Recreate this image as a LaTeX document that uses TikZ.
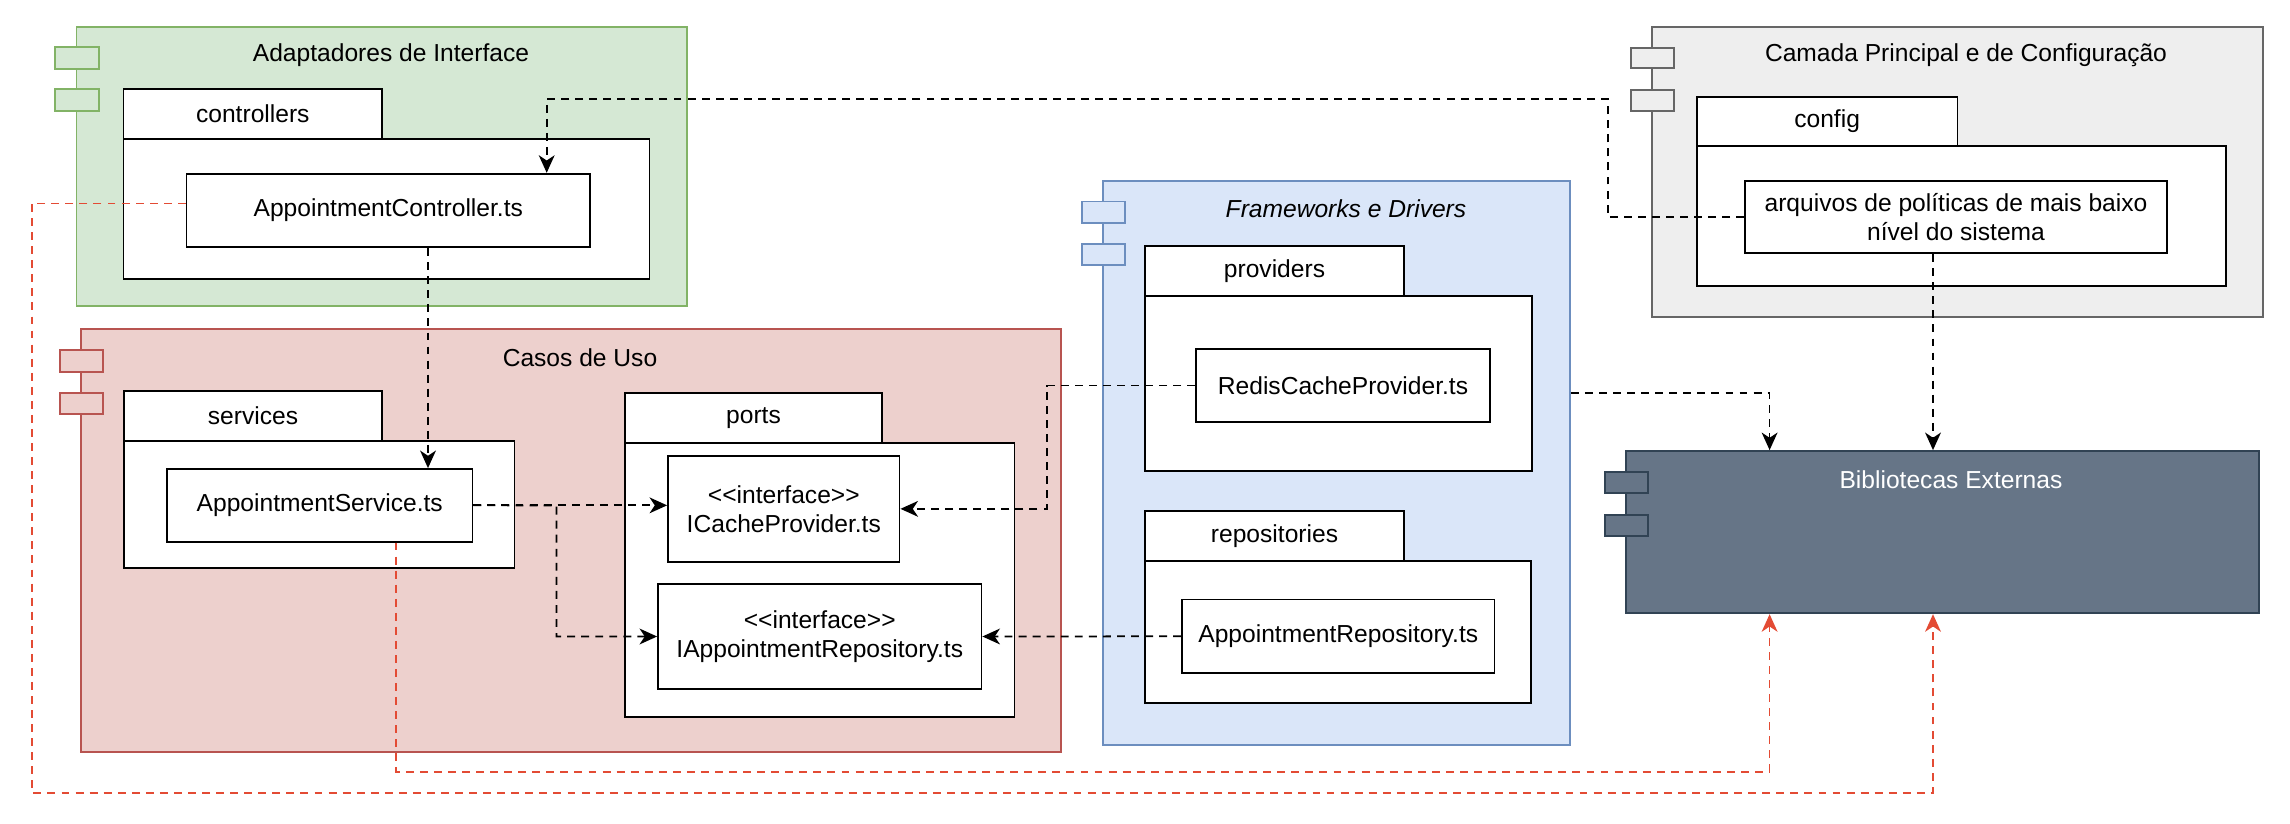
\documentclass[tikz,border=0pt]{standalone}
\usepackage{fontspec}
\setmainfont{Liberation Sans}
\usepackage{xcolor}
\usetikzlibrary{arrows.meta,fit,calc}
\definecolor{adaptfill}{HTML}{D5E8D4}
\definecolor{adaptline}{HTML}{82B366}
\definecolor{casosfill}{HTML}{EDD0CD}
\definecolor{casosline}{HTML}{B85450}
\definecolor{fwfill}{HTML}{DAE6F9}
\definecolor{fwline}{HTML}{6C8EBF}
\definecolor{mainfill}{HTML}{EEEEEE}
\definecolor{mainline}{HTML}{666666}
\definecolor{libfill}{HTML}{667587}
\definecolor{libline}{HTML}{314354}
\definecolor{libred}{HTML}{E34B34}
\newcommand{\stereo}[1]{\textless\kern0pt\textless#1\textgreater\kern0pt\textgreater}

\begin{document}
\begin{tikzpicture}[
  x=0.02cm, y=-0.02cm,
  font=\fontsize{14}{16.5}\selectfont,
  layer/.style={draw, line width=1pt, inner sep=0pt},
  plug/.style={draw, line width=1pt, inner sep=0pt},
  pkg/.style={draw=black, fill=white, line width=1pt, inner sep=0pt},
  txt/.style={label={[align=center]center:#1}},
  arr/.style={-{Stealth[length=10pt,width=9pt,inset=3pt]}, line width=1pt, dash pattern=on 4.5pt off 3.5pt},
  redarr/.style={arr, color=libred}
]
\useasboundingbox (0,0) rectangle (2290,824);

% Adaptadores de Interface
\node[layer, draw=adaptline, fill=adaptfill, fit={(76.6,26.7) (687,306)}] (adapt) {};
\node[plug, draw=adaptline, fill=adaptfill, fit={(55,47) (99,69)}] (adaptpa) {};
\node[plug, draw=adaptline, fill=adaptfill, fit={(55,89) (99,111)}] (adaptpb) {};
\node (adapttitle) at (391,55) {Adaptadores de Interface};
\node[pkg, fit={(123.6,139) (649.5,279)}] (ctrlpkg) {};
\node[pkg, fit={(123.6,89) (382,139)}, txt=controllers] (ctrltab) {};
\node[pkg, fit={(186.6,173.7) (590,247.3)}, txt=AppointmentController.ts] (ctrl) {};

% Casos de Uso
\node[layer, draw=casosline, fill=casosfill, fit={(81,329) (1061,752)}] (casos) {};
\node[plug, draw=casosline, fill=casosfill, fit={(60,350) (103,372)}] (casospa) {};
\node[plug, draw=casosline, fill=casosfill, fit={(60,393) (103,414)}] (casospb) {};
\node (casostitle) at (580,358) {Casos de Uso};
\node[pkg, fit={(124,441) (514.5,568)}] (svcpkg) {};
\node[pkg, fit={(124,391) (382,441)}, txt=services] (svctab) {};
\node[pkg, fit={(167,469) (472.5,541.7)}, txt=AppointmentService.ts] (svc) {};
\node[pkg, fit={(625,443) (1014.6,716.7)}] (portspkg) {};
\node[pkg, fit={(625,393) (882,443)}, txt=ports] (portstab) {};
\node[pkg, fit={(668,456) (899.6,561.7)}, txt={\stereo{interface}\\ICacheProvider.ts}] (icache) {};
\node[pkg, fit={(658,584) (981.5,689)}, txt={\stereo{interface}\\IAppointmentRepository.ts}] (irepo) {};

% Frameworks e Drivers
\node[layer, draw=fwline, fill=fwfill, fit={(1103,181) (1570,745)}] (fw) {};
\node[plug, draw=fwline, fill=fwfill, fit={(1082,201.5) (1125,223)}] (fwpa) {};
\node[plug, draw=fwline, fill=fwfill, fit={(1082,243.7) (1125,265)}] (fwpb) {};
\node[font=\fontsize{14}{16.5}\selectfont\itshape] (fwtitle) at (1346,209) {Frameworks e Drivers};
\node[pkg, fit={(1145,296) (1532,471)}] (provpkg) {};
\node[pkg, fit={(1145,246) (1404,296)}, txt=providers] (provtab) {};
\node[pkg, fit={(1196,349) (1490,422)}, txt=RedisCacheProvider.ts] (redis) {};
\node[pkg, fit={(1145,561) (1531,703)}] (repopkg) {};
\node[pkg, fit={(1145,511) (1404,561)}, txt=repositories] (repotab) {};
\node[pkg, fit={(1182,599.6) (1494.6,673)}, txt=AppointmentRepository.ts] (repo) {};

% Camada Principal e de Configuracao
\node[layer, draw=mainline, fill=mainfill, fit={(1652,26.7) (2263,316.7)}] (main) {};
\node[plug, draw=mainline, fill=mainfill, fit={(1631,47.7) (1674,68.3)}] (mainpa) {};
\node[plug, draw=mainline, fill=mainfill, fit={(1631,90) (1674,110.7)}] (mainpb) {};
\node (maintitle) at (1966,55) {Camada Principal e de Configuração};
\node[pkg, fit={(1696.7,146) (2226,285.7)}] (cfgpkg) {};
\node[pkg, fit={(1696.7,96.7) (1957.6,146)}, txt=config] (cfgtab) {};
\node[pkg, fit={(1745,180.7) (2167,253.3)}, txt={arquivos de políticas de mais baixo\\nível do sistema}] (arq) {};

% Bibliotecas Externas
\node[layer, draw=libline, fill=libfill, fit={(1626,451) (2259,613.3)}] (lib) {};
\node[plug, draw=libline, fill=libfill, fit={(1605,472) (1648,493)}] (libpa) {};
\node[plug, draw=libline, fill=libfill, fit={(1605,514.7) (1648,536)}] (libpb) {};
\node[text=white] (libtitle) at (1951,480) {Bibliotecas Externas};

% bends
\coordinate (bendA) at (1608,99);
\coordinate (ctrlin) at (546.7,0);
\coordinate (svcin) at (428,0);
\coordinate (forkB) at (556.5,505.4);
\coordinate (bendR) at (1047,450);
\coordinate (libA) at (1769.6,0);
\coordinate (libB) at (1933,0);
\coordinate (svcout) at (396,0);
\coordinate (redA) at (1769.6,771.7);
\coordinate (redC) at (31.7,792.7);

\draw[arr] (arq.west) -| (bendA) -| (ctrl.north -| ctrlin);
\draw[arr] (ctrl.south -| svcin) -- (svc.north -| svcin);
\draw[arr] (svc.east) -- (svc.east -| icache.west);
\draw[arr] (svc.east) -- (forkB) |- (irepo.west);
\draw[arr] (redis.west) -| (bendR) |- (icache.east);
\draw[arr] (repo.west) -- (irepo.east);
\draw[arr] ([yshift=1.4cm]fw.east) -| (lib.north -| libA);
\draw[arr] (arq.south -| libB) -- (lib.north -| libB);
\draw[redarr] (svc.south -| svcout) |- (redA) -- (lib.south -| redA);
\draw[redarr] ([yshift=0.14cm]ctrl.west) -| (redC) -| (lib.south -| libB);
\end{tikzpicture}
\end{document}
